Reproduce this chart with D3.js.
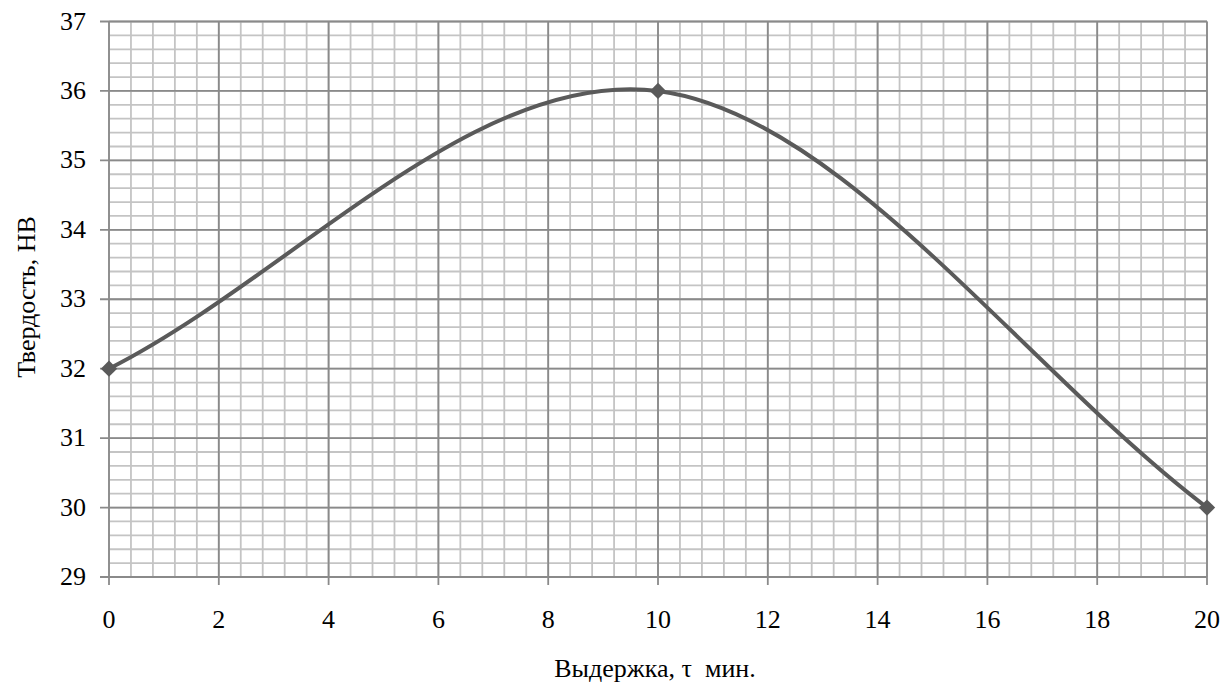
<!DOCTYPE html>
<html><head><meta charset="utf-8">
<script src="https://cdn.jsdelivr.net/npm/d3@7"></script>
<style>body{margin:0;background:#fff}svg{display:block}</style>
</head><body>
<script>
const xValues = [0, 10, 20];
const yValues = [32, 36, 30];
const xTicks = [0, 2, 4, 6, 8, 10, 12, 14, 16, 18, 20];
const yTicks = [29, 30, 31, 32, 33, 34, 35, 36, 37];
const xTitle = "Выдержка, τ\u00a0 мин.";
const yTitle = "Твердость, НВ";

const FONT = '"Liberation Serif"';
const W = 1223, H = 682;
const svg = d3.select("body").append("svg").attr("width", W).attr("height", H);
const x = d3.scaleLinear().domain([0, 20]).range([109, 1207]);
const y = d3.scaleLinear().domain([29, 37]).range([577, 21.5]);

const g = svg.append("g");
const xMinor = d3.range(0, 20.001, 0.4);
const yMinor = d3.range(29, 37.001, 0.2);
g.selectAll(".vmin").data(xMinor).enter().append("line")
  .attr("x1", d => x(d)).attr("x2", d => x(d)).attr("y1", y(29)).attr("y2", y(37))
  .attr("stroke", "#c4c4c4").attr("stroke-width", 1.8);
g.selectAll(".hmin").data(yMinor).enter().append("line")
  .attr("x1", x(0)).attr("x2", x(20)).attr("y1", d => y(d)).attr("y2", d => y(d))
  .attr("stroke", "#c4c4c4").attr("stroke-width", 1.8);
g.selectAll(".vmaj").data(xTicks).enter().append("line")
  .attr("x1", d => x(d)).attr("x2", d => x(d)).attr("y1", y(29) + 8).attr("y2", y(37))
  .attr("stroke", "#8a8a8a").attr("stroke-width", 1.8);
g.selectAll(".hmaj").data(yTicks).enter().append("line")
  .attr("x1", x(0) - 9).attr("x2", x(20)).attr("y1", d => y(d)).attr("y2", d => y(d))
  .attr("stroke", "#8a8a8a").attr("stroke-width", 1.8);

function styleText(sel) {
  return sel.style("font-family", FONT).style("font-size", "26px").style("fill", "#000");
}
styleText(g.selectAll(".xl").data(xTicks).enter().append("text")
  .attr("x", d => x(d)).attr("y", 628).attr("text-anchor", "middle")).text(d => d);
styleText(g.selectAll(".yl").data(yTicks).enter().append("text")
  .attr("x", 86).attr("y", d => y(d) + 8).attr("text-anchor", "end")).text(d => d);

styleText(svg.append("text").attr("x", 655).attr("y", 677).attr("text-anchor", "middle")).text(xTitle);
styleText(svg.append("text").attr("transform", "translate(35,297) rotate(-90)").attr("text-anchor", "middle")).text(yTitle);

// Excel-style smoothed line: Bezier segments, tangents (P[i+1]-P[i-1])/6, ends (P1-P0)/3
const P = xValues.map((v, i) => [x(v), y(yValues[i])]);
const n = P.length;
const T = P.map((p, i) => {
  if (i === 0) return [(P[1][0] - P[0][0]) / 3, (P[1][1] - P[0][1]) / 3];
  if (i === n - 1) return [(P[n-1][0] - P[n-2][0]) / 3, (P[n-1][1] - P[n-2][1]) / 3];
  return [(P[i+1][0] - P[i-1][0]) / 6, (P[i+1][1] - P[i-1][1]) / 6];
});
const path = d3.path();
path.moveTo(P[0][0], P[0][1]);
for (let i = 0; i < n - 1; i++) {
  path.bezierCurveTo(P[i][0] + T[i][0], P[i][1] + T[i][1],
    P[i+1][0] - T[i+1][0], P[i+1][1] - T[i+1][1], P[i+1][0], P[i+1][1]);
}
svg.append("path").attr("d", path.toString()).attr("fill", "none")
  .attr("stroke", "#5a5a5a").attr("stroke-width", 4);
svg.selectAll(".m").data(xValues).enter().append("path")
  .attr("transform", (d, i) => `translate(${x(d)},${y(yValues[i])})`)
  .attr("d", d3.symbol(d3.symbolDiamond2, 170)).attr("fill", "#5a5a5a");
</script>
</body></html>
